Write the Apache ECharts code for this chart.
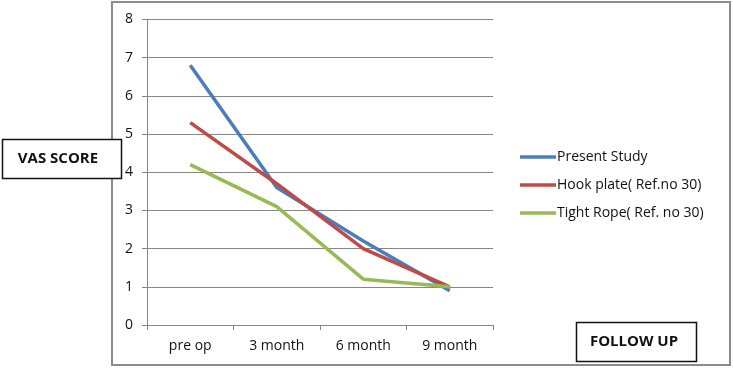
<!DOCTYPE html>
<html><head><meta charset="utf-8">
<script src="https://cdn.jsdelivr.net/npm/echarts@6/dist/echarts.min.js"></script>
<style>html,body{margin:0;padding:0;background:#fff}#c{width:733px;height:369px}</style>
</head><body><div id="c"></div>
<script>
const categories = ['pre op', '3 month', '6 month', '9 month'];
const presentStudy = [6.8, 3.6, 2.2, 0.9];
const hookPlate = [5.3, 3.7, 2.0, 1.0];
const tightRope = [4.2, 3.1, 1.2, 1.0];
const seriesNames = ['Present Study', 'Hook plate( Ref.no 30)', 'Tight Rope( Ref. no 30)'];
const yTicks = [0, 1, 2, 3, 4, 5, 6, 7, 8];
const yLabel = 'VAS SCORE';
const xLabel = 'FOLLOW UP';

const FONT = 'Open Sans';
const colors = ['#4A7EBB', '#BE4B48', '#98B954'];
const chart = echarts.init(document.getElementById('c'), null, {renderer: 'canvas'});
const mk = (name, data, i) => ({
  name, type: 'line', data, symbol: 'none', smooth: false,
  lineStyle: {width: 3.5, color: colors[i]}, itemStyle: {color: colors[i]}
});
chart.setOption({
  animation: false,
  backgroundColor: '#fff',
  textStyle: {fontFamily: FONT},
  grid: {left: 147, top: 19.5, width: 346, height: 305.5, containLabel: false},
  xAxis: {
    type: 'category', data: categories, boundaryGap: true,
    axisLine: {lineStyle: {color: '#868686', width: 1}},
    axisTick: {show: true, length: 5, lineStyle: {color: '#868686'}, alignWithLabel: false},
    axisLabel: {color: '#111', fontSize: 14, margin: 14, fontFamily: FONT}
  },
  yAxis: {
    type: 'value', min: yTicks[0], max: yTicks[yTicks.length - 1], interval: 1,
    axisLine: {show: true, lineStyle: {color: '#868686', width: 1}},
    axisTick: {show: true, length: 5, lineStyle: {color: '#868686'}},
    axisLabel: {color: '#111', fontSize: 14, margin: 14, fontFamily: FONT},
    splitLine: {lineStyle: {color: '#868686', width: 1}}
  },
  legend: {
    orient: 'vertical', left: 515, top: 145, itemGap: 14,
    itemWidth: 36, itemHeight: 3.5, icon: 'rect',
    textStyle: {color: '#111', fontSize: 14, fontFamily: FONT, padding: [0, 0, 0, -4]},
    data: seriesNames
  },
  series: [mk(seriesNames[0], presentStudy, 0), mk(seriesNames[1], hookPlate, 1), mk(seriesNames[2], tightRope, 2)],
  graphic: [
    {type: 'rect', shape: {x: 112, y: 2, width: 618, height: 363}, style: {fill: 'none', stroke: '#8c8c8c', lineWidth: 2}, z: -1},
    {type: 'rect', shape: {x: 2.5, y: 139.5, width: 119, height: 39}, style: {fill: '#fff', stroke: '#111', lineWidth: 1.5}, z: 10},
    {type: 'text', x: 58, y: 159, style: {text: yLabel, fill: '#111', font: 'bold 15px ' + FONT, textAlign: 'center', textVerticalAlign: 'middle'}, z: 11},
    {type: 'rect', shape: {x: 576.5, y: 322.5, width: 120, height: 39}, style: {fill: '#fff', stroke: '#111', lineWidth: 1.5}, z: 10},
    {type: 'text', x: 634, y: 342, style: {text: xLabel, fill: '#111', font: 'bold 15px ' + FONT, textAlign: 'center', textVerticalAlign: 'middle'}, z: 11}
  ]
});
</script></body></html>
